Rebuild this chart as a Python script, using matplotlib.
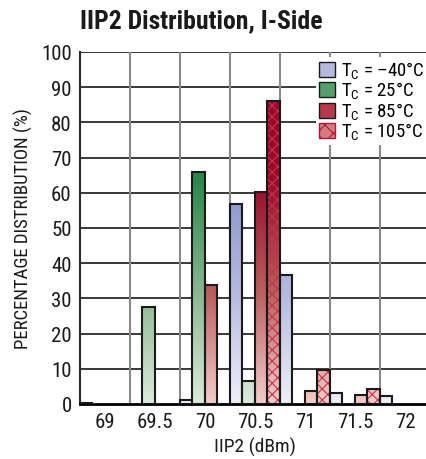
import numpy as np
import matplotlib
matplotlib.use("Agg")
import matplotlib.pyplot as plt
from matplotlib.colors import LinearSegmentedColormap, Normalize
from matplotlib.patches import Patch
import logging
logging.getLogger('matplotlib.font_manager').setLevel(logging.ERROR)

plt.rcParams['font.family'] = ['Roboto Condensed', 'Liberation Sans Narrow', 'Roboto', 'DejaVu Sans']
plt.rcParams['mathtext.fontset'] = 'custom'
plt.rcParams['mathtext.rm'] = 'Roboto Condensed'
plt.rcParams['hatch.linewidth'] = 0.8

# data (percent of units per IIP2 bin)
bins = [69, 69.5, 70, 70.5, 71, 71.5, 72]
tc_m40 = [0.4, 0, 1.2, 56.8, 36.6, 3.2, 2.2]
tc_25 = [0, 27.6, 65.8, 6.4, 0, 0, 0]
tc_85 = [0, 0, 33.8, 60.1, 3.8, 2.6, 0]
tc_105 = [0, 0, 0, 86.2, 9.8, 4.2, 0]
labels = ["T$_\\mathrm{C}$ = \u201340\u00b0C", "T$_\\mathrm{C}$ = 25\u00b0C",
          "T$_\\mathrm{C}$ = 85\u00b0C", "T$_\\mathrm{C}$ = 105\u00b0C"]

blue = LinearSegmentedColormap.from_list("b", ["#eef0f9", "#b4badf", "#8a92ca"])
green = LinearSegmentedColormap.from_list("g", ["#dcebdc", "#8ab68e", "#2c874a"])
red = LinearSegmentedColormap.from_list("r", ["#f3ccc8", "#b95e5e", "#990a2a"])
series = [(tc_m40, blue, None), (tc_25, green, None), (tc_85, red, None), (tc_105, red, "xxx")]

fig = plt.figure(figsize=(4.27, 4.6), dpi=100)
ax = fig.add_axes([80/427, 55/460, 350/427, 352/460])

x = np.array(bins)
w = 0.125
norm = Normalize(0, 64)
for i, (vals, cmap, hatch) in enumerate(series):
    left = x - 0.25 + i * w
    for xl, h in zip(left, vals):
        if h <= 0:
            continue
        grad = np.linspace(0, h, 200).reshape(-1, 1)
        im = ax.imshow(grad, cmap=cmap, norm=norm, origin='lower', aspect='auto',
                       extent=(xl, xl + w, 0, h), zorder=2, interpolation='bilinear')
        box = ax.bar(xl, h, width=w, align='edge', fill=False, lw=0, zorder=2)[0]
        im.set_clip_path(box)
        if hatch:
            ax.bar(xl, h, width=w, align='edge', fill=False, hatch=hatch,
                   edgecolor='#c8324a', lw=0, zorder=3)
        ax.bar(xl, h, width=w, align='edge', fill=False, edgecolor='#1a1a1a',
               lw=1.5, zorder=4)

ax.set_xlim(68.75, 72.25)
ax.set_ylim(0, 100)
ax.set_xticks(bins)
ax.set_xticklabels(["69", "69.5", "70", "70.5", "71", "71.5", "72"])
ax.set_yticks(np.arange(0, 101, 10))
ax.tick_params(length=0, labelsize=15, pad=6, colors='#1a1a1a')
for yv in np.arange(10, 101, 10):
    ax.axhline(yv, color='#2a2a2a', lw=1.3, zorder=1)
for xv in np.arange(69.25, 72.25, 0.5):
    ax.axvline(xv, color='#8a8a8a', lw=1.5, zorder=1)
for s in ['top', 'right']:
    ax.spines[s].set_visible(False)
ax.spines['left'].set_color('#2a2a2a')
ax.spines['left'].set_linewidth(1.5)
ax.spines['bottom'].set_linewidth(2)

ax.set_xlabel("IIP2 (dBm)", fontsize=14, labelpad=4, color='#1a1a1a')
ax.set_ylabel("PERCENTAGE DISTRIBUTION (%)", fontsize=13.5, labelpad=6, color='#1a1a1a')
fig.text(80/427, 1 - 21/460, "IIP2 Distribution, I-Side", fontsize=18.5,
         fontweight='bold', va='center', ha='left', color='#1a1a1a')

handles = [Patch(facecolor="#b4badf", edgecolor='#1a1a1a'),
           Patch(facecolor="#55a06a", edgecolor='#1a1a1a'),
           Patch(facecolor="#b83a4a", edgecolor='#1a1a1a'),
           Patch(facecolor="#d67a80", edgecolor='#b01a3a', hatch='xx')]
leg = ax.legend(handles, labels, loc='upper left', bbox_to_anchor=(236/350, 1 - 5/352),
                frameon=True, fontsize=13.5, handlelength=0.85, handleheight=0.85,
                handletextpad=0.35, labelspacing=-0.05, borderpad=0.15,
                borderaxespad=0)
leg.get_frame().set_linewidth(0)
leg.get_frame().set_facecolor('white')
leg.get_frame().set_alpha(1)
leg.set_zorder(5)

fig.savefig("out.png", dpi=100)
